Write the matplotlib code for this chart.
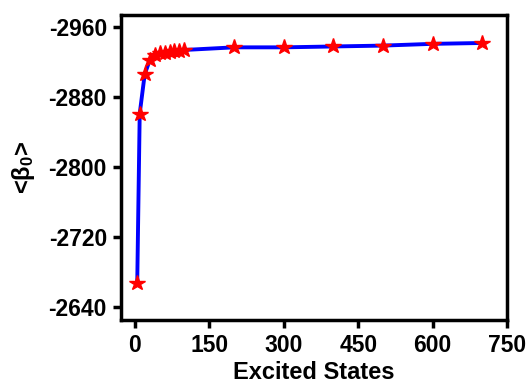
import matplotlib
matplotlib.use("Agg")
import matplotlib.pyplot as plt

plt.rcParams['font.family'] = ['Liberation Sans', 'DejaVu Sans']
plt.rcParams['font.weight'] = 'bold'
plt.rcParams['axes.unicode_minus'] = False
plt.rcParams['mathtext.fontset'] = 'custom'
plt.rcParams['mathtext.rm'] = 'Liberation Sans:bold'
plt.rcParams['mathtext.it'] = 'Liberation Sans:bold'
plt.rcParams['mathtext.bf'] = 'Liberation Sans:bold'

states = [5, 10, 20, 30, 40, 50, 60, 70, 80, 90, 100, 200, 300, 400, 500, 600, 700]
beta0 = [-2667, -2861, -2906, -2922, -2928, -2930, -2931, -2932, -2933, -2933, -2934,
         -2937, -2937, -2938, -2939, -2941, -2942]
xticks = [0, 150, 300, 450, 600, 750]
yticks = [-2960, -2880, -2800, -2720, -2640]

fig = plt.figure(figsize=(5.3, 3.85), dpi=100)
ax = fig.add_axes([0.228, 0.169, 0.729, 0.792])
ax.plot(states, beta0, color='#0000ff', lw=2.8, marker='*', ms=11.5,
        markerfacecolor='#ff0000', markeredgecolor='#ff0000', zorder=3)
ax.set_xlim(-28, 750)
ax.set_ylim(-2625, -2974)
ax.set_xticks(xticks)
ax.set_yticks(yticks)
ax.tick_params(direction='out', length=6, width=2.5, labelsize=16.5, pad=4)
for lab in ax.get_xticklabels() + ax.get_yticklabels():
    lab.set_fontweight('bold')
for s in ax.spines.values():
    s.set_linewidth(2.5)
ax.set_xlabel('Excited States', fontsize=17, fontweight='bold', labelpad=3)
ax.set_ylabel('<β$_0$>', fontsize=17, fontweight='bold', labelpad=8)
fig.savefig('out.png', dpi=100)
